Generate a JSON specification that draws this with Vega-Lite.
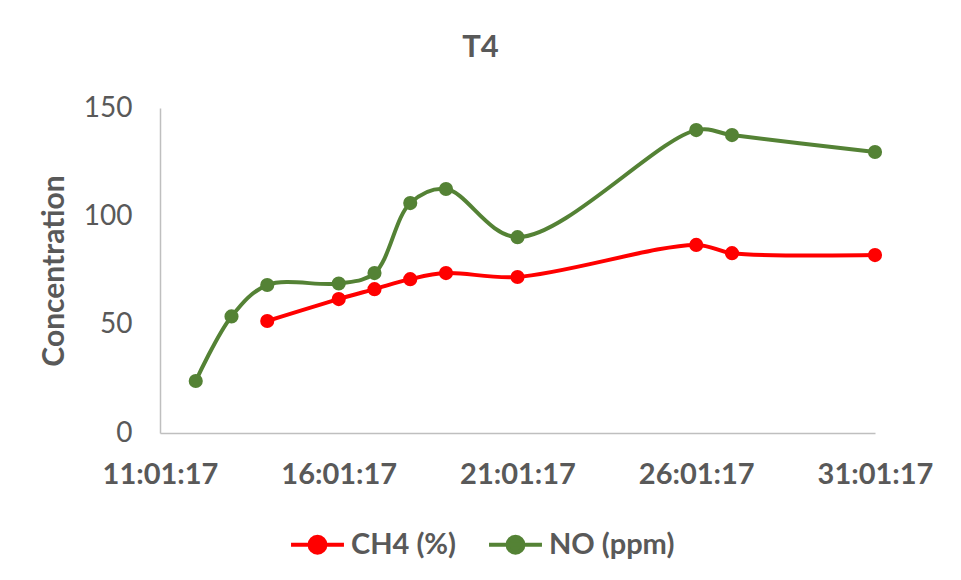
{
  "$schema": "https://vega.github.io/schema/vega-lite/v6.json",
  "width": 715,
  "height": 325,
  "autosize": {"type": "none"},
  "padding": {"left": 160, "top": 108, "right": 86, "bottom": 147},
  "background": "white",
  "title": {
    "text": "T4",
    "font": "Lato",
    "fontSize": 31,
    "fontWeight": "bold",
    "color": "#595959",
    "anchor": "middle",
    "frame": "group",
    "dx": -37,
    "offset": 30
  },
  "data": {
    "values": [
      {"date": "2017-01-14", "series": "CH4 (%)", "value": 51.7},
      {"date": "2017-01-16", "series": "CH4 (%)", "value": 61.8},
      {"date": "2017-01-17", "series": "CH4 (%)", "value": 66.4},
      {"date": "2017-01-18", "series": "CH4 (%)", "value": 71.0},
      {"date": "2017-01-19", "series": "CH4 (%)", "value": 73.8},
      {"date": "2017-01-21", "series": "CH4 (%)", "value": 72.0},
      {"date": "2017-01-26", "series": "CH4 (%)", "value": 86.8},
      {"date": "2017-01-27", "series": "CH4 (%)", "value": 83.0},
      {"date": "2017-01-31", "series": "CH4 (%)", "value": 82.1},
      {"date": "2017-01-12", "series": "NO (ppm)", "value": 24.0},
      {"date": "2017-01-13", "series": "NO (ppm)", "value": 53.8},
      {"date": "2017-01-14", "series": "NO (ppm)", "value": 68.3},
      {"date": "2017-01-16", "series": "NO (ppm)", "value": 69.0},
      {"date": "2017-01-17", "series": "NO (ppm)", "value": 73.8},
      {"date": "2017-01-18", "series": "NO (ppm)", "value": 106.1},
      {"date": "2017-01-19", "series": "NO (ppm)", "value": 112.6},
      {"date": "2017-01-21", "series": "NO (ppm)", "value": 90.4},
      {"date": "2017-01-26", "series": "NO (ppm)", "value": 139.8},
      {"date": "2017-01-27", "series": "NO (ppm)", "value": 137.5},
      {"date": "2017-01-31", "series": "NO (ppm)", "value": 129.7}
    ]
  },
  "encoding": {
    "x": {
      "field": "date",
      "type": "temporal",
      "scale": {
        "type": "utc",
        "domain": [
          {"year": 2017, "month": 1, "date": 11, "utc": true},
          {"year": 2017, "month": 1, "date": 31, "utc": true}
        ]
      },
      "axis": {
        "title": null,
        "format": "%d:%m:%y",
        "values": [
          {"year": 2017, "month": 1, "date": 11, "utc": true},
          {"year": 2017, "month": 1, "date": 16, "utc": true},
          {"year": 2017, "month": 1, "date": 21, "utc": true},
          {"year": 2017, "month": 1, "date": 26, "utc": true},
          {"year": 2017, "month": 1, "date": 31, "utc": true}
        ],
        "grid": false,
        "ticks": false,
        "domainColor": "#BFBFBF",
        "domainWidth": 1.5,
        "labelFont": "Lato",
        "labelFontSize": 29,
        "labelFontWeight": "bold",
        "labelColor": "#595959",
        "labelPadding": 27,
        "labelFlush": false,
        "labelOverlap": false
      }
    },
    "y": {
      "field": "value",
      "type": "quantitative",
      "scale": {"domain": [0, 150], "nice": false, "zero": true},
      "axis": {
        "title": "Concentration",
        "values": [0, 50, 100, 150],
        "grid": false,
        "ticks": false,
        "domainColor": "#BFBFBF",
        "domainWidth": 1.5,
        "labelFont": "Lato",
        "labelFontSize": 28,
        "labelColor": "#595959",
        "labelPadding": 28,
        "titleFont": "Lato",
        "titleFontSize": 30,
        "titleFontWeight": "bold",
        "titleColor": "#595959",
        "titlePadding": 14
      }
    },
    "color": {
      "field": "series",
      "type": "nominal",
      "scale": {"domain": ["CH4 (%)", "NO (ppm)"], "range": ["#FF0000", "#548235"]},
      "legend": {
        "title": null,
        "orient": "none",
        "direction": "horizontal",
        "legendX": 129,
        "legendY": 408,
        "symbolType": "M-1,0L1,0M0.3,0A0.3,0.3,0,1,1,-0.3,0A0.3,0.3,0,1,1,0.3,0Z",
        "symbolSize": 2800,
        "symbolStrokeWidth": 4,
        "labelFont": "Lato",
        "labelFontSize": 29,
        "labelFontWeight": "bold",
        "labelColor": "#595959",
        "labelOffset": 5,
        "columnPadding": 24
      }
    }
  },
  "layer": [
    {
      "mark": {"type": "line", "interpolate": "catmull-rom", "strokeWidth": 4}
    },
    {
      "mark": {"type": "point", "filled": true, "size": 200, "opacity": 1}
    }
  ],
  "config": {"view": {"stroke": null}}
}
